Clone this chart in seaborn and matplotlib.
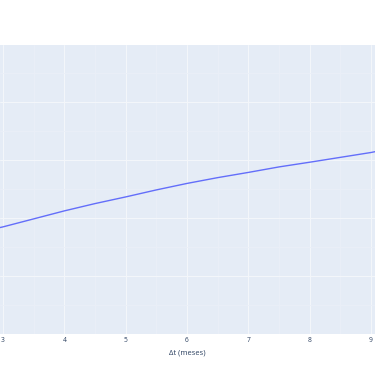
import matplotlib
matplotlib.use("Agg")
import matplotlib.pyplot as plt
import seaborn as sns
import pandas as pd
from matplotlib.ticker import MultipleLocator, NullFormatter

# Data (y in arbitrary grid units)
delta_t = [2.95, 3, 3.5, 4, 4.5, 5, 5.5, 6, 6.5, 7, 7.5, 8, 8.5, 9, 9.065]
valor = [1.838, 1.85, 1.988, 2.126, 2.252, 2.367, 2.488, 2.60, 2.70,
         2.79, 2.885, 2.966, 3.05, 3.134, 3.148]
x_ticks = [3, 4, 5, 6, 7, 8, 9]
x_label = "Δt (meses)"

df = pd.DataFrame({"dt": delta_t, "v": valor})

sns.set_theme(style="white")
plt.rcParams['font.family'] = ['Open Sans', 'DejaVu Sans']

fig = plt.figure(figsize=(3.75, 3.66), dpi=100)
ax = fig.add_axes([0, 1 - 334 / 366, 1, (334 - 45) / 366])
ax.set_facecolor("#E5ECF6")

sns.lineplot(data=df, x="dt", y="v", ax=ax, color="#636EFA", linewidth=1.0)

ax.set_xlim(2.95, 9.065)
ax.set_ylim(0, 4.99)
ax.set_xticks(x_ticks)
ax.set_xticklabels([str(t) for t in x_ticks])
ax.xaxis.set_minor_locator(MultipleLocator(0.5))
ax.yaxis.set_major_locator(MultipleLocator(1))
ax.yaxis.set_minor_locator(MultipleLocator(0.5))
ax.yaxis.set_major_formatter(NullFormatter())

ax.grid(which="major", color="#F4F7FB", linewidth=0.7)
ax.grid(which="minor", color="#EAEFF8", linewidth=0.6)
ax.set_axisbelow(True)

ax.tick_params(axis="both", which="both", length=0)
ax.tick_params(axis="x", labelsize=4.8, labelcolor="#2a3f5f", pad=2)
for s in ax.spines.values():
    s.set_visible(False)

ax.set_xlabel(x_label, fontsize=5.5, color="#2a3f5f", labelpad=4)
ax.set_ylabel("")

fig.savefig("out.png", dpi=100)
